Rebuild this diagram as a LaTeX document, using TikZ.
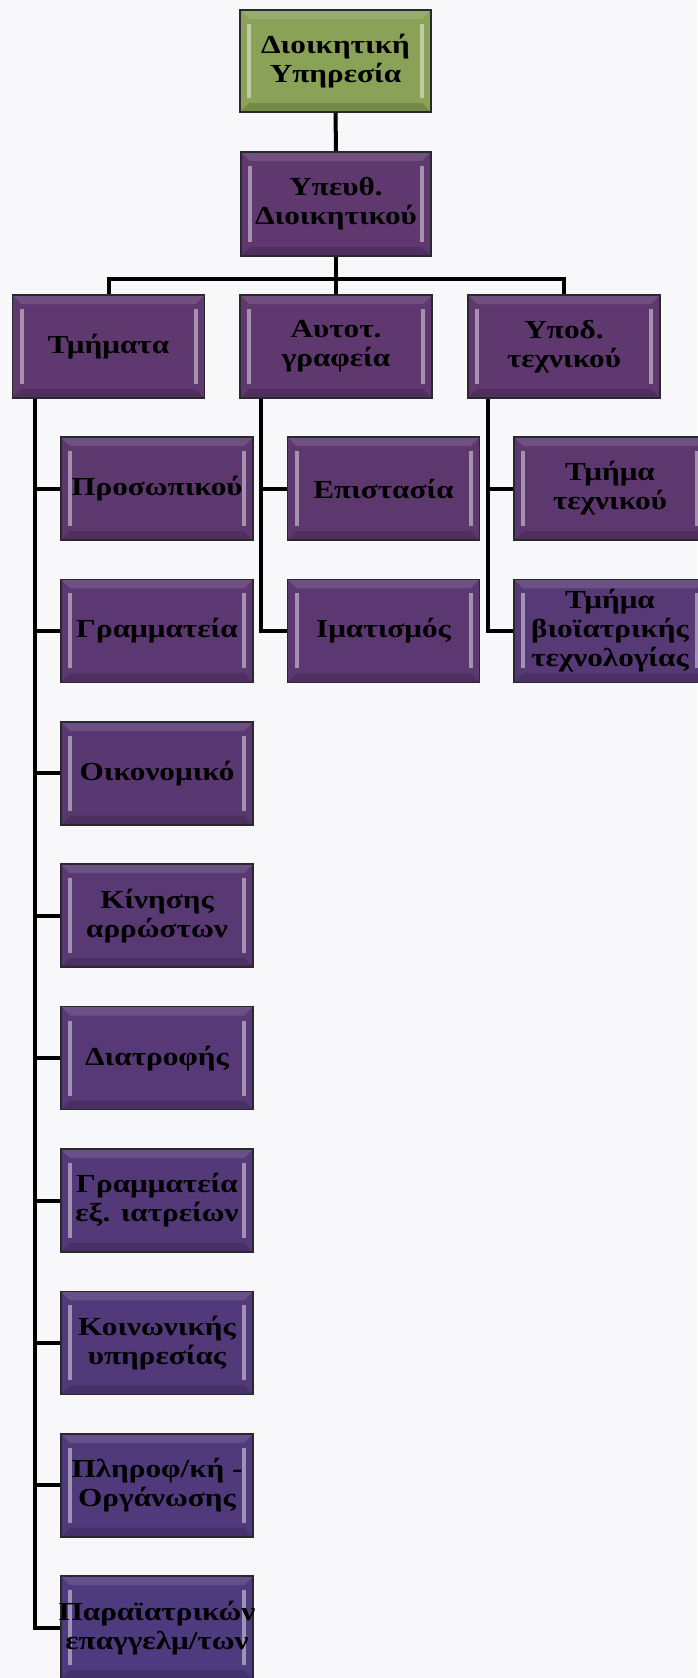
\documentclass[tikz,border=0pt]{standalone}
\usepackage{fontspec}
\setmainfont{Liberation Serif}
\newfontfamily\boxfont{Liberation Serif}[FakeStretch=1.2]
\usetikzlibrary{calc}
\definecolor{bg}{RGB}{248,248,250}
\definecolor{pA}{RGB}{94,56,110}
\definecolor{pB}{RGB}{76,58,128}
\definecolor{gbox}{RGB}{138,162,88}
\definecolor{edge}{RGB}{40,40,45}
\tikzset{
 box/.style={draw=edge, line width=1.5pt, minimum width=192pt, minimum height=103pt,
   inner sep=0pt, align=center, font=\boxfont\fontsize{26}{29}\selectfont\bfseries, text=black,
   path picture={
     \fill[white,opacity=.45] ([shift={(7pt,-14pt)}]path picture bounding box.north west) rectangle ([shift={(11pt,14pt)}]path picture bounding box.south west);
     \fill[white,opacity=.45] ([shift={(-11pt,-14pt)}]path picture bounding box.north east) rectangle ([shift={(-7pt,14pt)}]path picture bounding box.south east);
     \fill[white,opacity=.12] (path picture bounding box.north west) -- (path picture bounding box.north east) -- ([shift={(-9pt,-9pt)}]path picture bounding box.north east) -- ([shift={(9pt,-9pt)}]path picture bounding box.north west) -- cycle;
     \fill[black,opacity=.15] (path picture bounding box.south west) -- (path picture bounding box.south east) -- ([shift={(-9pt,9pt)}]path picture bounding box.south east) -- ([shift={(9pt,9pt)}]path picture bounding box.south west) -- cycle;
   }},
 conn/.style={line width=4pt, draw=black},
}
\begin{document}
\begin{tikzpicture}[x=1pt,y=-1pt]
\fill[bg] (0,0) rectangle (697,1678);
\useasboundingbox (0,0) rectangle (697,1678);
% top levels
\node[box, fill=gbox, minimum width=191pt, minimum height=102pt] (top) at (335.5,61) {Διοικητική\\Υπηρεσία};
\node[box, fill=pA, minimum width=190pt, minimum height=104pt] (hd) at (336,204) {Υπευθ.\\Διοικητικού};
\node[box, fill=pA] (tm) at (108.5,346.5) {Τμήματα};
\node[box, fill=pA] (au) at (336,346.5) {Αυτοτ.\\γραφεία};
\node[box, fill=pA] (yp) at (564,346.5) {Υποδ.\\τεχνικού};
% Tmimata children
\node[box, fill=pA!95!pB] (t1) at (157,488.5) {Προσωπικού};
\node[box, fill=pA!85!pB] (t2) at (157,630.9) {Γραμματεία};
\node[box, fill=pA!75!pB] (t3) at (157,773.3) {Οικονομικό};
\node[box, fill=pA!65!pB] (t4) at (157,915.7) {Κίνησης\\αρρώστων};
\node[box, fill=pA!55!pB] (t5) at (157,1058.1) {Διατροφής};
\node[box, fill=pA!45!pB] (t6) at (157,1200.5) {Γραμματεία\\εξ. ιατρείων};
\node[box, fill=pA!35!pB] (t7) at (157,1342.9) {Κοινωνικής\\υπηρεσίας};
\node[box, fill=pA!20!pB] (t8) at (157,1485.3) {Πληροφ/κή -\\Οργάνωσης};
\node[box, fill=pA!5!pB, inner xsep=-10pt] (t9) at (157,1627.7) {Παραϊατρικών\\επαγγελμ/των};
% Autot children
\node[box, fill=pA!95!pB] (a1) at (383.5,488.5) {Επιστασία};
\node[box, fill=pA!85!pB] (a2) at (383.5,630.9) {Ιματισμός};
% Ypod children
\node[box, fill=pA!95!pB] (y1) at (610,488.5) {Τμήμα\\τεχνικού};
\node[box, fill=pA!60!pB] (y2) at (610,630.9) {Τμήμα\\βιοϊατρικής\\τεχνολογίας};
% connectors
\draw[conn] (top) -- (hd);
\draw[conn] (hd.south) -- ++(0,22) coordinate (bus);
\draw[conn] (bus) -| (tm.north);
\draw[conn] (bus) -| (yp.north);
\draw[conn] (bus) -- (au.north);
\coordinate (tmL) at ([xshift=23pt]tm.south west);
\coordinate (auL) at ([xshift=22pt]au.south west);
\coordinate (ypL) at ([xshift=21pt]yp.south west);
\foreach \c in {t1,t2,t3,t4,t5,t6,t7,t8,t9} \draw[conn] (tmL) |- (\c.west);
\foreach \c in {a1,a2} \draw[conn] (auL) |- (\c.west);
\foreach \c in {y1,y2} \draw[conn] (ypL) |- (\c.west);
\end{tikzpicture}
\end{document}
